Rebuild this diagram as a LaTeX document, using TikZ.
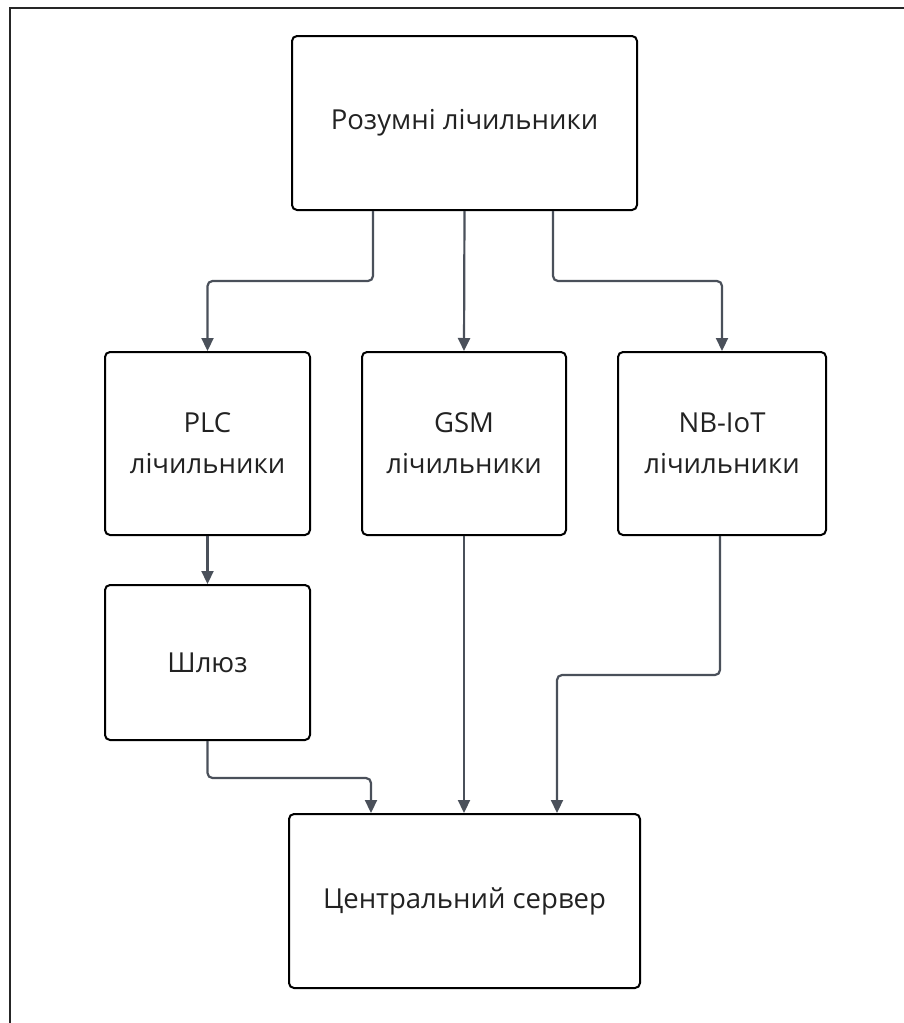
\documentclass[tikz,border=0pt]{standalone}
\usepackage{fontspec}
\setmainfont{Open Sans}
\usetikzlibrary{arrows.meta,calc}
\definecolor{conncol}{HTML}{4A505A}
\definecolor{txtcol}{HTML}{222222}
\begin{document}
\begin{tikzpicture}[x=1pt,y=-1pt,
  box/.style={draw=black,line width=2pt,rounded corners=5pt,fill=white,
    align=center,text=txtcol,font=\fontsize{27.5}{41}\selectfont,inner sep=0pt},
  conn/.style={draw=conncol,line width=2.2pt,rounded corners=5pt,
    -{Triangle[length=13pt,width=12pt]}},
  frame/.style={draw=black!85,line width=2pt}]
\useasboundingbox (0,0) rectangle (904,1023);
\coordinate (fa) at (904,8);
\coordinate (fb) at (10,8);
\coordinate (fc) at (10,1023);
\draw[frame] (fa) -- (fb) -- (fc);
\node[box,minimum width=345pt,minimum height=174pt] (top) at (464.5,123) {Розумні лічильники};
\node[box,minimum width=205pt,minimum height=183pt] (plc) at (207.5,443.5) {PLC\\лічильники};
\node[box,minimum width=204pt,minimum height=183pt] (gsm) at (464,443.5) {GSM\\лічильники};
\node[box,minimum width=208pt,minimum height=183pt] (nb) at (722,443.5) {NB-IoT\\лічильники};
\node[box,minimum width=205pt,minimum height=155pt] (gw) at (207.5,662.5) {Шлюз};
\node[box,minimum width=351pt,minimum height=174pt] (srv) at (464.5,901) {Центральний сервер};
\draw[conn] ($(top.south)+(-91.5,0)$) -- ++(0,70) -| (plc.north);
\draw[conn] (top.south) -- (gsm.north);
\draw[conn] ($(top.south)+(88.5,0)$) -- ++(0,70) -| (nb.north);
\draw[conn] (plc.south) -- (gw.north);
\draw[conn] (gw.south) -- ++(0,37) -| ($(srv.north)+(-93.5,0)$);
\draw[conn] (gsm.south) -- (gsm.south |- srv.north);
\draw[conn] ($(nb.south)+(-2,0)$) -- ++(0,139) -| ($(srv.north)+(92.5,0)$);
\end{tikzpicture}
\end{document}
